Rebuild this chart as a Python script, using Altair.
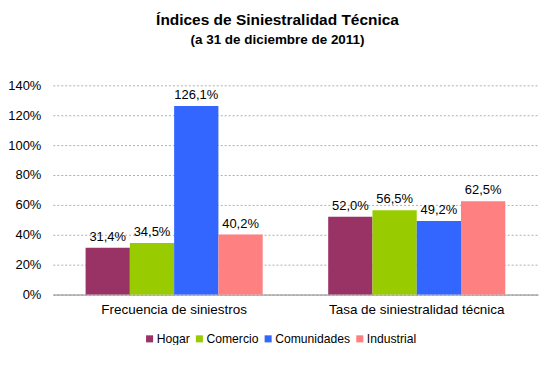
import altair as alt
import pandas as pd

categories = ["Frecuencia de siniestros", "Tasa de siniestralidad técnica"]
series = ["Hogar", "Comercio", "Comunidades", "Industrial"]
colors = ["#993366", "#99CC00", "#3366FF", "#FF8080"]
values = {
    "Hogar": [31.4, 52.0],
    "Comercio": [34.5, 56.5],
    "Comunidades": [126.1, 49.2],
    "Industrial": [40.2, 62.5],
}
y_ticks = [0, 20, 40, 60, 80, 100, 120, 140]

rows = []
for s in series:
    for c, v in zip(categories, values[s]):
        rows.append({"cat": c, "serie": s, "val": v,
                     "label": f"{v:.1f}".replace(".", ",") + "%"})
df = pd.DataFrame(rows)

FONT = "Liberation Sans"

base = alt.Chart(df).encode(
    x=alt.X("cat:N", sort=categories, title=None,
            scale=alt.Scale(paddingInner=0, paddingOuter=0),
            axis=alt.Axis(labelAngle=0, ticks=False, domainColor="#888888",
                          labelFontSize=13.5, labelColor="#000000", labelPadding=8,
                          labelFont=FONT)),
    xOffset=alt.XOffset("serie:N", sort=series,
                        scale=alt.Scale(paddingInner=0, paddingOuter=0.74)),
    y=alt.Y("val:Q", title=None,
            scale=alt.Scale(domain=[0, 140], nice=False),
            axis=alt.Axis(values=y_ticks,
                          labelExpr="datum.value + '%'", domain=False, ticks=False,
                          labelOverlap=False,
                          gridColor="#B0B0B0", gridDash=[2, 2], labelFontSize=13,
                          labelColor="#000000", labelPadding=12, labelFont=FONT)),
)

bars = base.mark_bar(strokeWidth=0).encode(
    color=alt.Color("serie:N", sort=series,
                    scale=alt.Scale(domain=series, range=colors),
                    legend=alt.Legend(title=None, orient="none", direction="horizontal",
                                      legendX=91, legendY=248, symbolType="square",
                                      symbolSize=50, symbolStrokeWidth=0,
                                      labelFontSize=12.2, labelFont=FONT,
                                      labelColor="#000000", columnPadding=3,
                                      labelOffset=1)),
)

texts = base.mark_text(baseline="bottom", dy=-4, fontSize=13, font=FONT,
                       color="#000000").encode(
    text="label:N",
)

chart = alt.layer(bars, texts).properties(
    width=487, height=210,
    autosize=alt.AutoSizeParams(type="none"),
    padding={"left": 45, "top": 77, "right": 10, "bottom": 50},
    title=alt.TitleParams(
        text="Índices de Siniestralidad Técnica",
        subtitle="(a 31 de diciembre de 2011)",
        fontSize=15.5, subtitleFontSize=13.5, subtitleFontWeight="bold",
        font=FONT, subtitleFont=FONT, color="#000000", subtitleColor="#000000",
        anchor="middle", dx=-18, offset=33, subtitlePadding=5,
    ),
).configure_view(stroke=None)

chart.save("out.html", embed_options={"renderer": "svg", "actions": False})
